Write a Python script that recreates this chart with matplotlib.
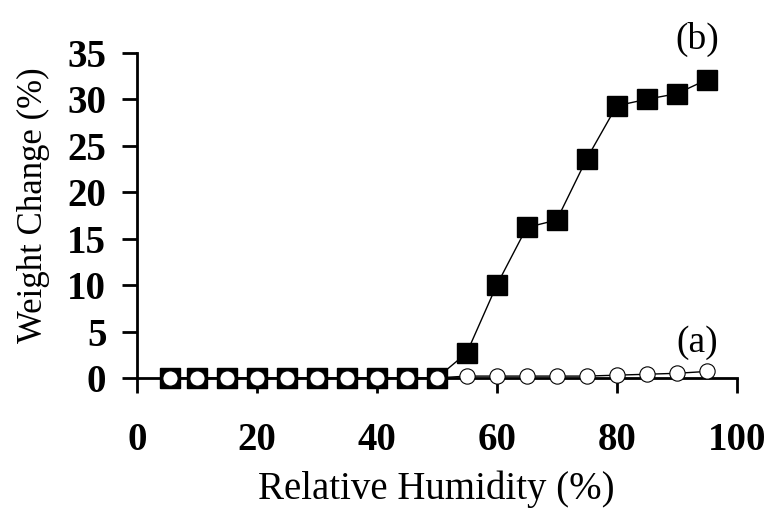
import matplotlib
matplotlib.use("Agg")
import matplotlib.pyplot as plt

# relative humidity (%) and weight change (%) for the two samples
rh = [5.5, 10, 15, 20, 25, 30, 35, 40, 45, 50, 55, 60, 65, 70, 75, 80, 85, 90, 95]
wc_b = [0, 0, 0, 0, 0, 0, 0, 0, 0, 0, 2.7, 10.0, 16.2, 17.0, 23.6, 29.3, 30.0, 30.6, 32.1]
wc_a = [0, 0, 0, 0, 0, 0, 0, 0, 0, 0, 0.2, 0.2, 0.2, 0.2, 0.2, 0.3, 0.4, 0.5, 0.7]

xticks = [0, 20, 40, 60, 80, 100]
yticks = [0, 5, 10, 15, 20, 25, 30, 35]

plt.rcParams['font.family'] = ['Liberation Serif', 'DejaVu Serif']

fig = plt.figure(figsize=(7.69, 5.08), dpi=100)
ax = fig.add_axes([0.178, 0.256, 0.780, 0.640])

ax.plot(rh, wc_b, color='black', lw=1, marker='s', ms=14.5,
        mfc='black', mec='black', zorder=3, clip_on=False)
ax.plot(rh, wc_a, color='black', lw=1, marker='o', ms=11,
        mfc='white', mec='black', mew=0.8, zorder=4, clip_on=False)

ax.set_xlim(0, 100)
ax.set_ylim(0, 35)
ax.set_xticks(xticks)
ax.set_yticks(yticks)

for s in ['top', 'right']:
    ax.spines[s].set_visible(False)
for s in ['left', 'bottom']:
    ax.spines[s].set_linewidth(2)

ax.tick_params(axis='both', direction='out', length=11, width=2)
ax.tick_params(axis='y', pad=11)
ax.tick_params(axis='x', pad=21)
for lab in ax.get_xticklabels() + ax.get_yticklabels():
    lab.set_fontsize(28)
    lab.set_fontweight('bold')

ax.set_xlabel('Relative Humidity (%)', fontsize=28, labelpad=8)
ax.set_ylabel('Weight Change (%)', fontsize=25)
ax.yaxis.set_label_coords(-0.145, 0.53)

ax.text(93.4, 36.4, '(b)', fontsize=27, ha='center', va='center')
ax.text(93.4, 3.8, '(a)', fontsize=27, ha='center', va='center')

fig.savefig('out.png', dpi=100)
